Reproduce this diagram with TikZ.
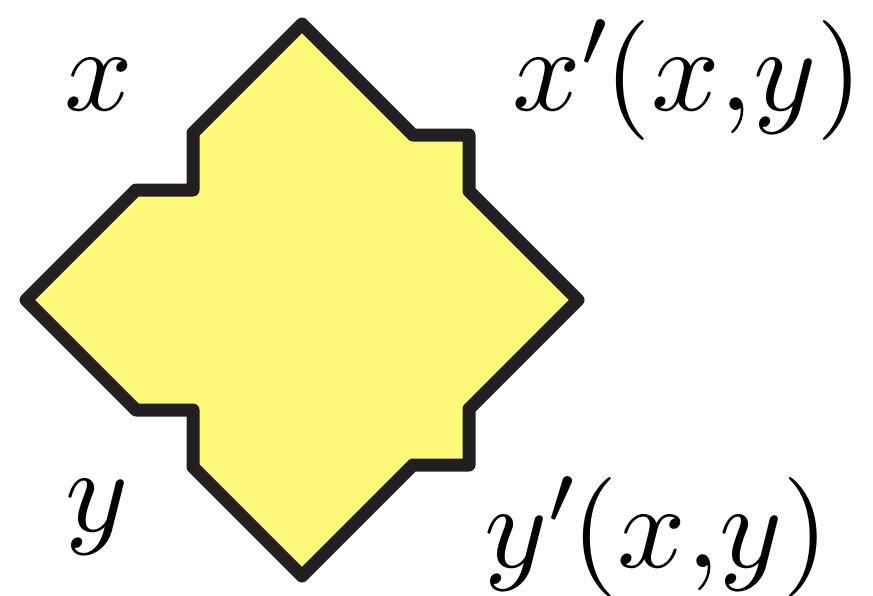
\documentclass[tikz,border=0pt]{standalone}
\usepackage{tikz}
\definecolor{piecefill}{HTML}{FFF97A}
\definecolor{piecedraw}{HTML}{231F20}
\begin{document}
\begin{tikzpicture}[x=1pt,y=-1pt,
  piece/.style={fill=piecefill,draw=piecedraw,line width=13pt,line join=round},
  lbl/.style={inner sep=0pt,anchor=base west,scale=12}]
\useasboundingbox (0,0) rectangle (873,595);
\draw[piece] (302,24) -- (413,135) -- (469,135) -- (469,191) -- (578,300)
  -- (469,409) -- (469,465) -- (413,465) -- (302,576)
  -- (193,467) -- (193,410) -- (136,410) -- (26,300)
  -- (136,190) -- (193,190) -- (193,133) -- cycle;
\node[lbl] (lx) at (62,110) {$x$};
\node[lbl] (ly) at (63,531) {$y$};
\node[lbl] (lxp) at (510,110) {$x'\mkern-1.5mu(x{,}y)$};
\node[lbl] (lyp) at (482,567) {$y'\mkern-1.5mu(x{,}y)$};
\end{tikzpicture}
\end{document}
